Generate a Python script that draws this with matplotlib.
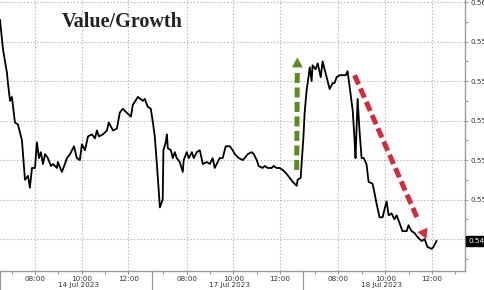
import matplotlib
matplotlib.use("Agg")
import matplotlib.pyplot as plt
from matplotlib.ticker import MultipleLocator, FixedLocator, FormatStrFormatter
import matplotlib.transforms as mtransforms

# session layout: each trading day shown from 06:30 to 13:00
SESSION_START = 6.5
SESSION_LEN = 6.5

days = ["14 Jul 2023", "17 Jul 2023", "18 Jul 2023"]

s1_time = [6.50, 6.63, 6.80, 6.84, 6.93, 7.01, 7.06, 7.14, 7.27, 7.44, 7.57, 7.70, 7.78, 7.87,
           8.00, 8.08, 8.17, 8.25, 8.34, 8.43, 8.55, 8.68, 8.77, 8.94, 8.98, 9.15, 9.28, 9.37,
           9.50, 9.67, 9.79, 9.92, 10.01, 10.14, 10.27, 10.44, 10.57, 10.65, 10.74, 10.91,
           11.08, 11.16, 11.34, 11.51, 11.63, 11.76, 11.93, 12.11, 12.19, 12.41, 12.62, 12.70,
           12.83, 12.96]
s1_val = [0.5591, 0.5576, 0.5564, 0.5559, 0.5550, 0.5552, 0.5547, 0.5539, 0.5538, 0.5530,
          0.5510, 0.5512, 0.5506, 0.5516, 0.5516, 0.5529, 0.5521, 0.5524, 0.5518, 0.5523,
          0.5521, 0.5517, 0.5518, 0.5516, 0.5519, 0.5514, 0.5518, 0.5521, 0.5523, 0.5527,
          0.5521, 0.5520, 0.5528, 0.5525, 0.5532, 0.5533, 0.5531, 0.5535, 0.5532, 0.5533,
          0.5535, 0.5539, 0.5535, 0.5536, 0.5544, 0.5546, 0.5544, 0.5542, 0.5548, 0.5552,
          0.5550, 0.5551, 0.5547, 0.5546]

s2_time = [6.55, 6.63, 6.72, 6.85, 6.97, 7.00, 7.10, 7.15, 7.19, 7.32, 7.40, 7.49, 7.57, 7.70,
           7.83, 7.87, 8.00, 8.09, 8.22, 8.30, 8.43, 8.56, 8.69, 8.86, 8.99, 9.11, 9.20, 9.41,
           9.54, 9.67, 9.84, 9.97, 10.06, 10.23, 10.40, 10.48, 10.61, 10.78, 10.87, 11.00,
           11.08, 11.25, 11.34, 11.47, 11.64, 11.72, 11.85, 11.98, 12.11, 12.28, 12.41, 12.54,
           12.62, 12.71, 12.75, 12.88]
s2_val = [0.5539, 0.5532, 0.5518, 0.5496, 0.5500, 0.5525, 0.5529, 0.5533, 0.5526, 0.5525,
          0.5521, 0.5524, 0.5521, 0.5519, 0.5514, 0.5520, 0.5524, 0.5521, 0.5524, 0.5521,
          0.5524, 0.5525, 0.5518, 0.5519, 0.5518, 0.5521, 0.5516, 0.5521, 0.5521, 0.5527,
          0.5527, 0.5525, 0.5523, 0.5521, 0.5520, 0.5521, 0.5523, 0.5524, 0.5523, 0.5520,
          0.5517, 0.5516, 0.5517, 0.5516, 0.5516, 0.5517, 0.5516, 0.5516, 0.5515, 0.5513,
          0.5511, 0.5509, 0.5508, 0.5507, 0.5510, 0.5511]

s3_time = [6.50, 6.55, 6.64, 6.68, 6.77, 6.85, 6.89, 7.02, 7.11, 7.24, 7.32, 7.49, 7.62, 7.75,
           7.83, 7.92, 8.05, 8.18, 8.31, 8.39, 8.48, 8.61, 8.69, 8.73, 8.82, 8.90, 8.99, 9.08,
           9.20, 9.29, 9.46, 9.55, 9.63, 9.76, 9.89, 9.97, 10.06, 10.15, 10.27, 10.40, 10.49,
           10.62, 10.74, 10.92, 11.00, 11.13, 11.26, 11.39, 11.56, 11.69, 11.81, 11.99, 12.07,
           12.20]
s3_val = [0.5532, 0.5544, 0.5556, 0.5559, 0.5567, 0.5560, 0.5568, 0.5566, 0.5569, 0.5562,
          0.5570, 0.5562, 0.5556, 0.5559, 0.5559, 0.5562, 0.5563, 0.5563, 0.5563, 0.5565,
          0.5557, 0.5545, 0.5530, 0.5521, 0.5551, 0.5535, 0.5521, 0.5521, 0.5518, 0.5509,
          0.5508, 0.5503, 0.5498, 0.5491, 0.5491, 0.5495, 0.5499, 0.5492, 0.5493, 0.5490,
          0.5492, 0.5488, 0.5484, 0.5484, 0.5487, 0.5484, 0.5483, 0.5481, 0.5479, 0.5480,
          0.5476, 0.5475, 0.5476, 0.5479]

sessions = [(s1_time, s1_val), (s2_time, s2_val), (s3_time, s3_val)]

# green "jump" arrow on 17 Jul, red "slide" arrow on 18 Jul (session, time, value)
green_arrow = [(1, 12.71, 0.5515), (1, 12.74, 0.5572)]
red_arrow = [(2, 8.69, 0.5563), (2, 11.77, 0.5480)]


def to_x(k, t):
    return k * SESSION_LEN + (t - SESSION_START)


xs, ys = [], []
for k, (t, v) in enumerate(sessions):
    xs += [to_x(k, ti) for ti in t]
    ys += v

fig = plt.figure(figsize=(4.85, 2.9), dpi=100)
ax = fig.add_axes([0.0, 19 / 290, 465 / 485, 271 / 290])

ax.plot(xs, ys, color="black", lw=1.3, zorder=3)

ax.set_xlim(0, to_x(2, 13.42))
ax.set_ylim(0.54638, 0.56011)

# ticks and grid
major_x = [to_x(k, h) for k in range(3) for h in (8, 10, 12)]
minor_x = [to_x(k, h) for k in range(3) for h in (7, 9, 11)] + [to_x(2, 13)]
ax.xaxis.set_major_locator(FixedLocator(major_x))
ax.xaxis.set_minor_locator(FixedLocator(minor_x))
ax.set_xticklabels(["08:00", "10:00", "12:00"] * 3)
ax.yaxis.set_major_locator(MultipleLocator(0.002))
ax.yaxis.set_minor_locator(MultipleLocator(0.001))
ax.yaxis.tick_right()
ax.yaxis.set_major_formatter(FormatStrFormatter("%.3f"))
ax.grid(True, which="major", color="#b5b5b5", linestyle=(0, (1.2, 1.8)), lw=0.8)

for s in ["top", "left"]:
    ax.spines[s].set_visible(False)
for s in ["bottom", "right"]:
    ax.spines[s].set_color("#9a9a9a")
    ax.spines[s].set_linewidth(1.0)

ax.tick_params(axis="both", which="both", colors="#9a9a9a", length=2.5, width=0.8,
               labelsize=5.2, labelcolor="#333333", direction="out")
ax.tick_params(axis="x", pad=1.2)
ax.tick_params(axis="y", pad=1.5)

# day labels and separators below the axis
trans = mtransforms.blended_transform_factory(ax.transData, ax.transAxes)
for k, d in enumerate(days):
    ax.text(k * SESSION_LEN + SESSION_LEN / 2 + 0.1, -0.053, d, transform=trans,
            ha="center", va="center", fontsize=5.2, color="#333333")
    ax.plot([k * SESSION_LEN] * 2, [0, -0.075], transform=trans, color="#9a9a9a",
            lw=0.9, clip_on=False)

# arrows
for arr, col in [(green_arrow, "#5b8c1f"), (red_arrow, "#d42a3c")]:
    (k0, t0, v0), (k1, t1, v1) = arr
    x0, x1 = to_x(k0, t0), to_x(k1, t1)
    fx = x0 + (x1 - x0) * 0.88
    fy = v0 + (v1 - v0) * 0.88
    ax.plot([x0, fx], [v0, fy], color=col, lw=3.6, linestyle=(0, (2.0, 0.9)),
            solid_capstyle="butt", dash_capstyle="butt", zorder=4)
    ax.annotate("", xy=(x1, v1), xytext=(fx, fy),
                arrowprops=dict(arrowstyle="-|>,head_length=0.7,head_width=0.38",
                                color=col, lw=0.1, shrinkA=0, shrinkB=0), zorder=4)

# last value tag
ax.annotate(f"{s3_val[-1]:.4f}", xy=(1.0, s3_val[-1]), xycoords=("axes fraction", "data"),
            xytext=(2.5, 0), textcoords="offset points", ha="left", va="center",
            fontsize=5.2, color="white", zorder=6,
            bbox=dict(boxstyle="square,pad=0.3", fc="black", ec="black"))

ax.text(0.133, 0.918, "Value/Growth", transform=ax.transAxes, fontsize=14.5,
        fontweight="bold", family="Liberation Serif", color="#222222", ha="left", va="center")

fig.savefig("out.png", dpi=100)
